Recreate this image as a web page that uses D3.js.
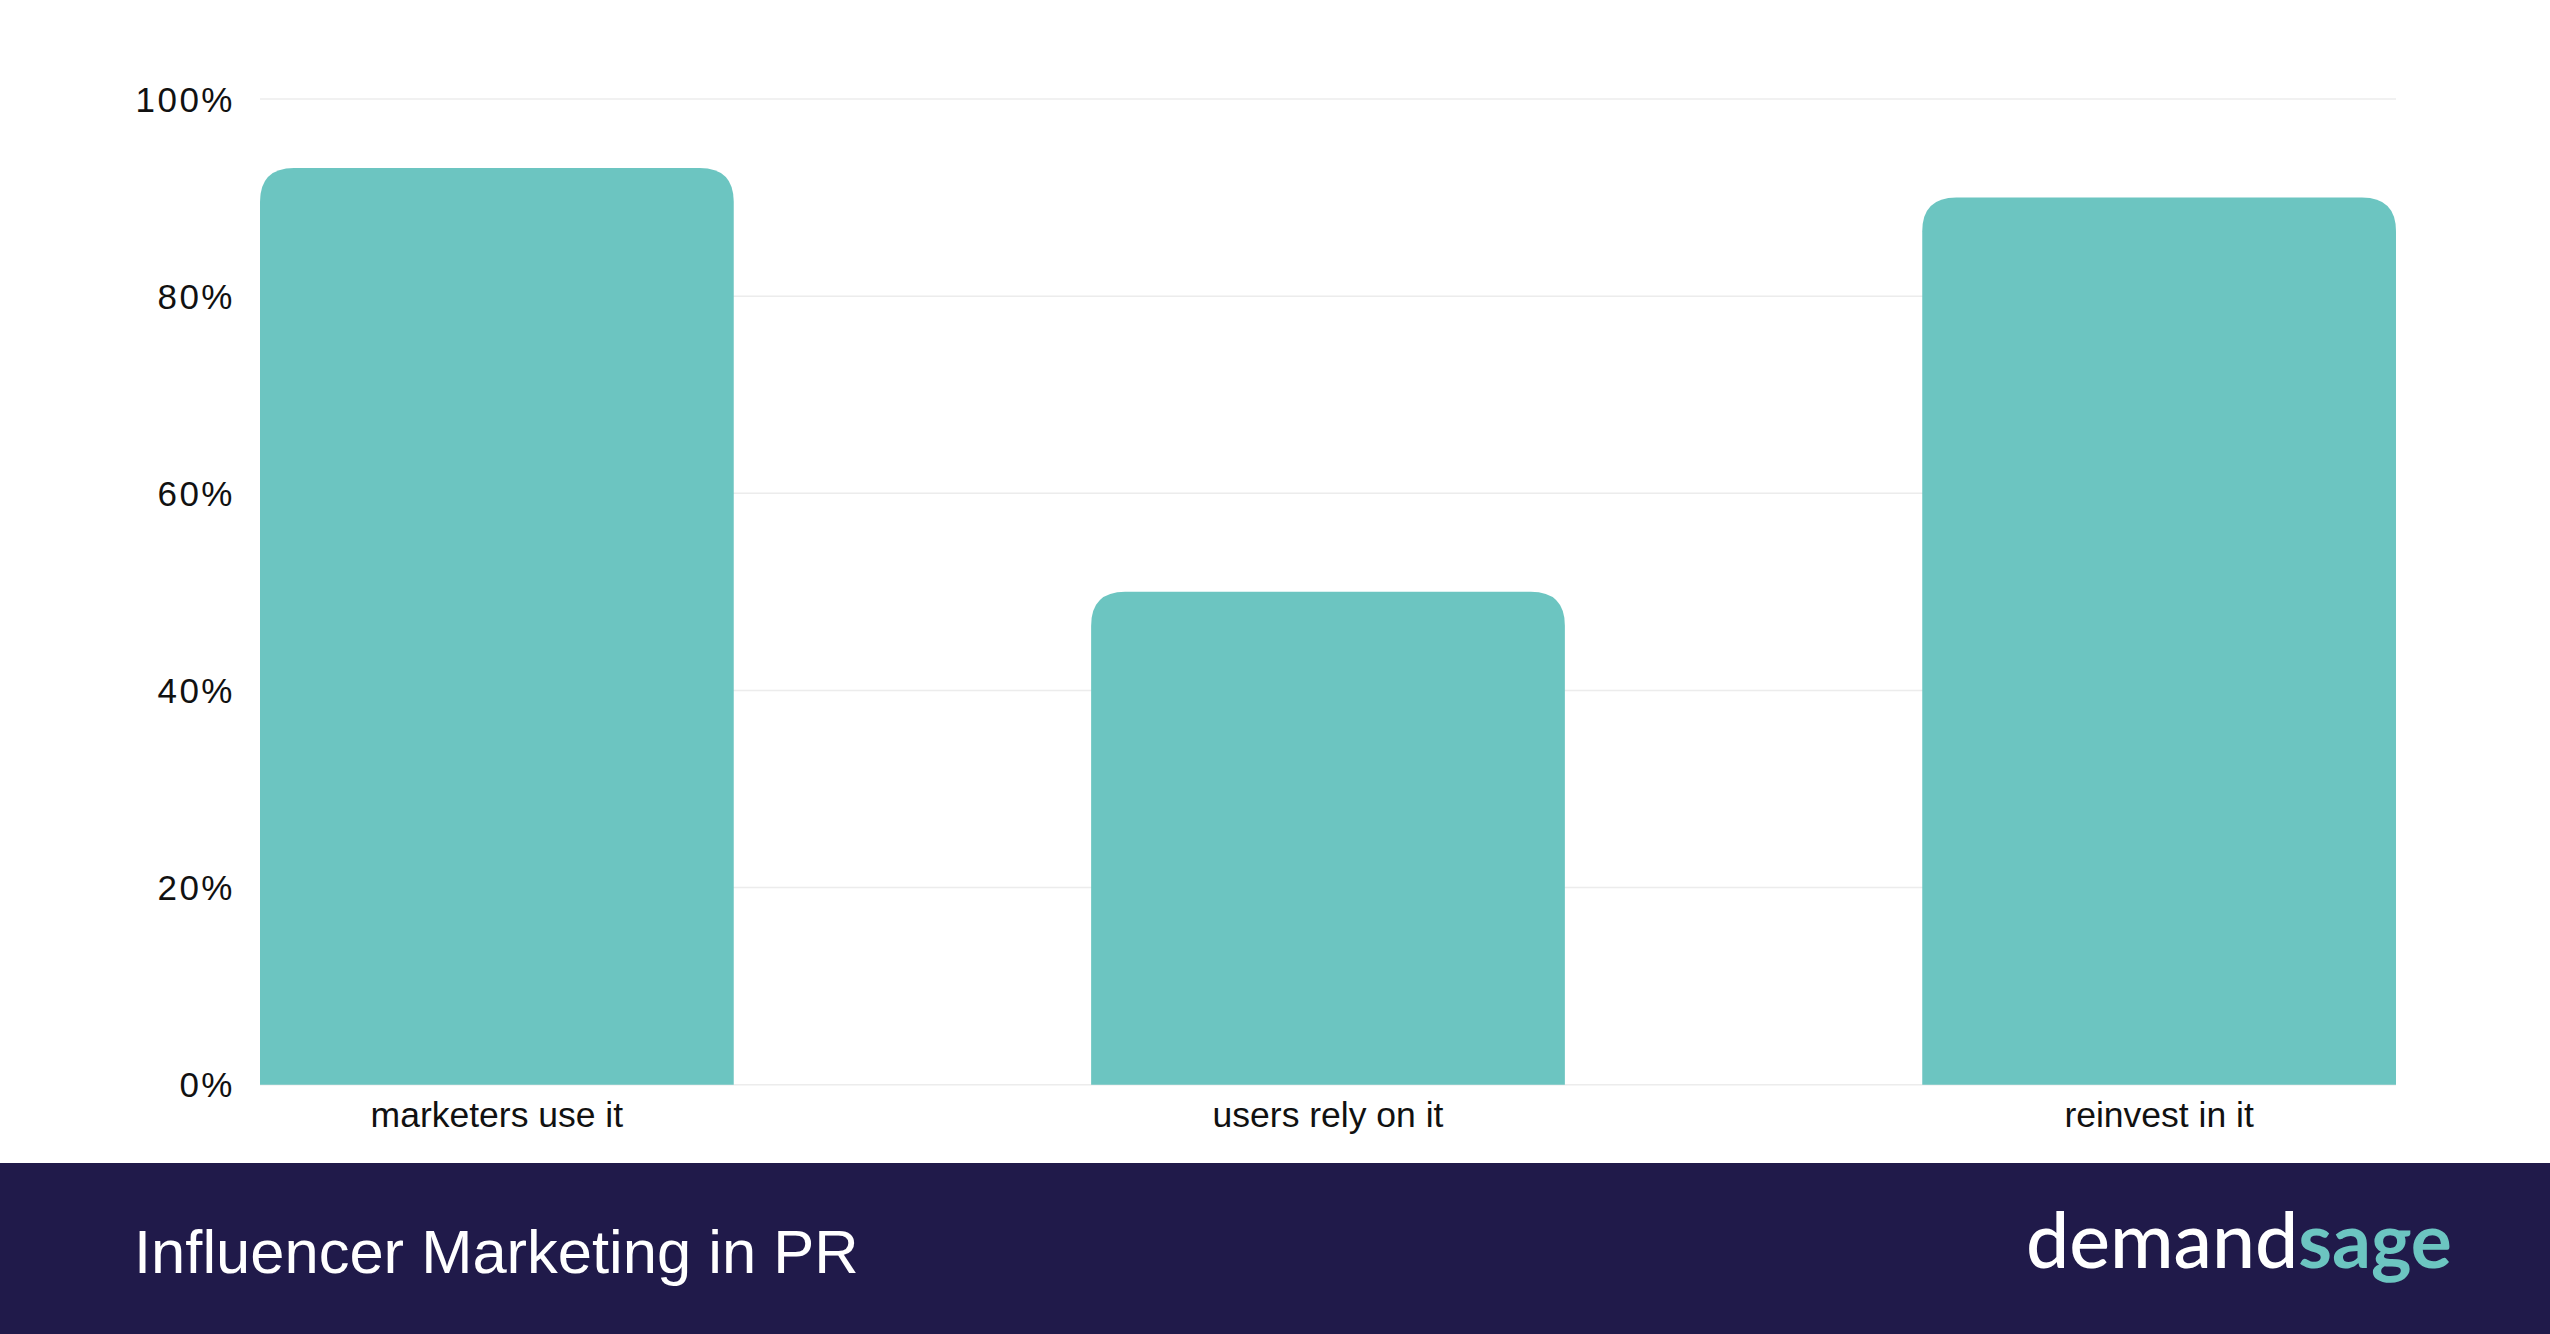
<!DOCTYPE html>
<html>
<head>
<meta charset="utf-8">
<script src="https://cdn.jsdelivr.net/npm/d3@7"></script>
<style>
  body { margin: 0; background: #fff; }
  svg { display: block; }
</style>
</head>
<body>
<div id="chart"></div>
<script>
var categories = ["marketers use it", "users rely on it", "reinvest in it"];
var values = [93, 50, 90];
var yTicks = [0, 20, 40, 60, 80, 100];
var title = "Influencer Marketing in PR";
var brand = ["demand", "sage"];

var WIDTH = 2550, HEIGHT = 1334, FOOTER = 171;
var MARGINS = { top: 99, right: 154, bottom: 249, left: 260 };
var BAR = "#6cc5c1", NAVY = "#201a4a";

var svg = d3.select("#chart").append("svg")
    .attr("width", WIDTH).attr("height", HEIGHT);

var xScale = d3.scaleBand().domain(categories)
    .range([MARGINS.left, WIDTH - MARGINS.right])
    .paddingInner(0.43).paddingOuter(0);
var yScale = d3.scaleLinear().domain([0, 100])
    .range([HEIGHT - MARGINS.bottom - 0.3, MARGINS.top]);

// gridlines
svg.append("g").selectAll("line").data(yTicks).enter().append("line")
    .attr("x1", MARGINS.left).attr("x2", WIDTH - MARGINS.right)
    .attr("y1", function(d) { return yScale(d); })
    .attr("y2", function(d) { return yScale(d); })
    .attr("stroke", "#ececec").attr("stroke-width", 1.5);

// y labels
svg.append("g").selectAll("text").data(yTicks).enter().append("text")
    .attr("x", 235).attr("y", function(d) { return yScale(d); })
    .attr("dy", "0.36em").attr("text-anchor", "end")
    .style("font-family", "'Liberation Sans', Arial, sans-serif")
    .style("font-size", "35px").style("letter-spacing", "2.5px")
    .attr("fill", "#111")
    .text(function(d) { return d + "%"; });

// bars with rounded top corners
var r = 34;
svg.append("g").selectAll("path").data(values).enter().append("path")
    .attr("fill", BAR)
    .attr("d", function(d, i) {
        var x0 = xScale(categories[i]), w = xScale.bandwidth();
        var y0 = yScale(d), y1 = yScale(0);
        return "M" + x0 + "," + y1 + "V" + (y0 + r)
            + "Q" + x0 + "," + y0 + " " + (x0 + r) + "," + y0
            + "H" + (x0 + w - r)
            + "Q" + (x0 + w) + "," + y0 + " " + (x0 + w) + "," + (y0 + r)
            + "V" + y1 + "Z";
    });

// category labels
svg.append("g").selectAll("text").data(categories).enter().append("text")
    .attr("x", function(d) { return xScale(d) + xScale.bandwidth() / 2; })
    .attr("y", 1127).attr("text-anchor", "middle")
    .style("font-family", "'Liberation Sans', Arial, sans-serif")
    .style("font-size", "35.5px").attr("fill", "#111")
    .text(function(d) { return d; });

// footer
svg.append("rect").attr("x", 0).attr("y", HEIGHT - FOOTER)
    .attr("width", WIDTH).attr("height", FOOTER).attr("fill", NAVY);

svg.append("text").attr("x", 134).attr("y", 1273)
    .style("font-family", "'Liberation Sans', Arial, sans-serif")
    .style("font-size", "61.5px").attr("fill", "#fff")
    .text(title);

var logo = svg.append("text").attr("x", 2026).attr("y", 1268)
    .style("font-family", "Lato, sans-serif").style("font-weight", 500)
    .style("font-size", "76px");
logo.append("tspan").attr("fill", "#fff").text(brand[0]);
logo.append("tspan").attr("fill", BAR).style("font-weight", 700).text(brand[1]);
// stretch the logo to the width seen in the picture
var lw = logo.node().getComputedTextLength();
logo.style("font-size", (76 * 426 / lw) + "px");
</script>
</body>
</html>
